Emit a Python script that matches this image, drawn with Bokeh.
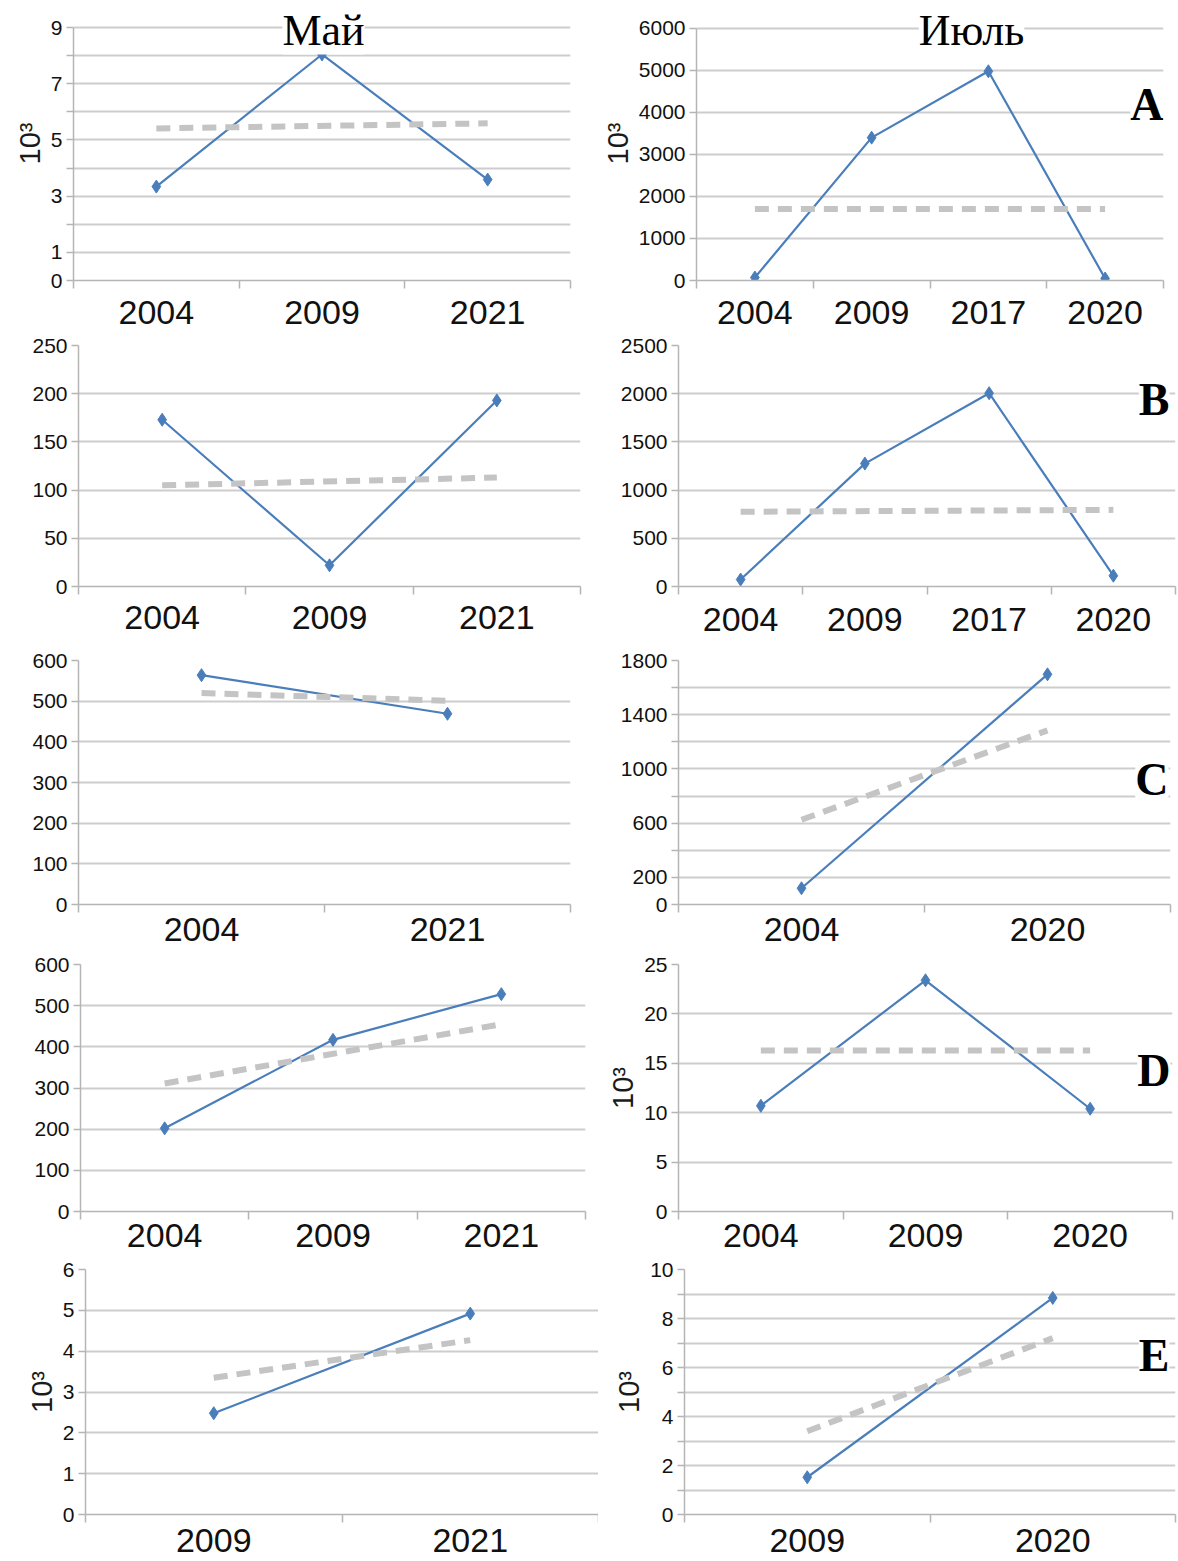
from bokeh.plotting import figure
from bokeh.layouts import column, row
from bokeh.models import Range1d, FixedTicker, Label
from bokeh.embed import file_html
from bokeh.resources import INLINE

# ---------------- data ----------------
may1_years = ["2004", "2009", "2021"]
may1_values = [3.34, 8.04, 3.59]
may1_trend = [5.41, 5.59]
may1_yticks = [0, 1, 2, 3, 4, 5, 6, 7, 8, 9]
may1_ylabels = ["0", "1", "", "3", "", "5", "", "7", "", "9"]

jul1_years = ["2004", "2009", "2017", "2020"]
jul1_values = [70, 3400, 4980, 47]
jul1_trend = [1700, 1700]
jul1_yticks = [0, 1000, 2000, 3000, 4000, 5000, 6000]
jul1_ylabels = ["0", "1000", "2000", "3000", "4000", "5000", "6000"]

may2_years = ["2004", "2009", "2021"]
may2_values = [173, 22, 193]
may2_trend = [105, 113]
may2_yticks = [0, 50, 100, 150, 200, 250]
may2_ylabels = ["0", "50", "100", "150", "200", "250"]

jul2_years = ["2004", "2009", "2017", "2020"]
jul2_values = [72, 1275, 2005, 112]
jul2_trend = [775, 795]
jul2_yticks = [0, 500, 1000, 1500, 2000, 2500]
jul2_ylabels = ["0", "500", "1000", "1500", "2000", "2500"]

may3_years = ["2004", "2021"]
may3_values = [564, 469]
may3_trend = [520, 501]
may3_yticks = [0, 100, 200, 300, 400, 500, 600]
may3_ylabels = ["0", "100", "200", "300", "400", "500", "600"]

jul3_years = ["2004", "2020"]
jul3_values = [120, 1698]
jul3_trend = [625, 1285]
jul3_yticks = [0, 200, 400, 600, 800, 1000, 1200, 1400, 1600, 1800]
jul3_ylabels = ["0", "200", "", "600", "", "1000", "", "1400", "", "1800"]

may4_years = ["2004", "2009", "2021"]
may4_values = [202, 417, 528]
may4_trend = [311, 455]
may4_yticks = [0, 100, 200, 300, 400, 500, 600]
may4_ylabels = ["0", "100", "200", "300", "400", "500", "600"]

jul4_years = ["2004", "2009", "2020"]
jul4_values = [10.7, 23.4, 10.4]
jul4_trend = [16.3, 16.3]
jul4_yticks = [0, 5, 10, 15, 20, 25]
jul4_ylabels = ["0", "5", "10", "15", "20", "25"]

may5_years = ["2009", "2021"]
may5_values = [2.48, 4.92]
may5_trend = [3.35, 4.27]
may5_yticks = [0, 1, 2, 3, 4, 5, 6]
may5_ylabels = ["0", "1", "2", "3", "4", "5", "6"]

jul5_years = ["2009", "2020"]
jul5_values = [1.52, 8.84]
jul5_trend = [3.4, 7.2]
jul5_yticks = [0, 1, 2, 3, 4, 5, 6, 7, 8, 9, 10]
jul5_ylabels = ["0", "", "2", "", "4", "", "6", "", "8", "", "10"]

col_titles = ["Май", "Июль"]
panel_letters = ["A", "B", "C", "D", "E"]
unit_label = "10³"

# ---------------- styles / layout ----------------
AXIS = "#b5b5b5"
GRID = "#cdcdcd"
BLUE = "#4a7ebb"
TREND = "#c4c4c4"
SANS = "Liberation Sans"
SERIF = "Liberation Serif"

LEFT_W = 598
RIGHT_W = 580
ROWS = [(0, 333), (333, 643), (643, 951), (951, 1256), (1256, 1561)]


def make_panel(years, values, trend, yticks, ylabels, col, rowi, frame,
               standoff, unit=None, title=None, title_frac=0.5, title_pad=0,
               letter=None, letter_frac=0.5, letter_dx=0):
    """frame = (left, right, grid_top, bottom) in page pixels."""
    n = len(years)
    fx0 = 0 if col == 0 else LEFT_W
    width = LEFT_W if col == 0 else RIGHT_W
    fy0, fy1 = ROWS[rowi]
    height = fy1 - fy0
    left, right, gtop, bottom = frame
    top = gtop - title_pad
    bl = left - fx0
    br = fx0 + width - right
    bt = top - fy0
    bb = fy1 - bottom

    ymax = yticks[-1]
    grid_h = bottom - gtop
    per_px = (ymax - yticks[0]) / grid_h
    yend = ymax + title_pad * per_px

    p = figure(width=width, height=height,
               x_range=Range1d(0.5, n + 0.5),
               y_range=Range1d(yticks[0], yend),
               output_backend="svg", toolbar_location=None,
               min_border_left=bl, min_border_right=br,
               min_border_top=bt, min_border_bottom=bb)
    p.outline_line_color = None
    p.background_fill_color = "white"
    p.border_fill_color = "white"
    p.xgrid.visible = False
    p.ygrid.grid_line_color = GRID
    p.ygrid.grid_line_width = 2

    xs = list(range(1, n + 1))
    xa = p.xaxis[0]
    xa.ticker = FixedTicker(ticks=xs, minor_ticks=[i + 0.5 for i in range(0, n + 1)])
    xa.major_label_overrides = {x: y for x, y in zip(xs, years)}
    xa.major_tick_line_color = None
    xa.major_tick_out = 0
    xa.major_tick_in = 0
    xa.minor_tick_line_color = AXIS
    xa.minor_tick_line_width = 1.5
    xa.minor_tick_out = 8
    xa.minor_tick_in = 0
    xa.axis_line_color = AXIS
    xa.axis_line_width = 1.5
    xa.major_label_text_font = SANS
    xa.major_label_text_font_size = "34px"
    xa.major_label_text_color = "#111111"
    xa.major_label_standoff = standoff

    ya = p.yaxis[0]
    ya.ticker = FixedTicker(ticks=yticks)
    ya.bounds = (yticks[0], ymax)
    ya.major_label_overrides = {t: l for t, l in zip(yticks, ylabels)}
    ya.major_tick_line_color = AXIS
    ya.major_tick_line_width = 1.5
    ya.major_tick_out = 7
    ya.major_tick_in = 0
    ya.minor_tick_line_color = None
    ya.axis_line_color = AXIS
    ya.axis_line_width = 1.5
    ya.major_label_text_font = SANS
    ya.major_label_text_font_size = "21px"
    ya.major_label_text_color = "#111111"
    ya.major_label_standoff = 4
    if unit:
        ya.axis_label = unit
        ya.axis_label_text_font = SANS
        ya.axis_label_text_font_style = "normal"
        ya.axis_label_text_font_size = "29px"
        ya.axis_label_text_color = "#1a1a1a"
        ya.axis_label_standoff = 2

    p.line(xs, values, line_color=BLUE, line_width=2.2)
    p.scatter(xs, values, marker="diamond", size=13,
              fill_color=BLUE, line_color=BLUE)
    p.line([1, n], trend, line_color=TREND, line_width=6, line_dash="14 9")

    if title:
        p.add_layout(Label(x=0.5 + title_frac * n, y=ymax - 2.5 * per_px,
                           text=title,
                           text_font=SERIF, text_font_size="44px",
                           text_color="#000000", text_align="center",
                           text_baseline="middle",
                           background_fill_color="white"))
    if letter:
        p.add_layout(Label(x=n + 0.5, y=yticks[0] + letter_frac * (ymax - yticks[0]),
                           text=letter, x_offset=letter_dx,
                           text_font=SERIF, text_font_size="46px",
                           text_font_style="bold", text_color="#000000",
                           text_align="right", text_baseline="middle",
                           background_fill_color="white"))
    return p


p1 = make_panel(may1_years, may1_values, may1_trend, may1_yticks, may1_ylabels,
                0, 0, (73, 570, 27, 280), 12, unit=unit_label,
                title=col_titles[0], title_frac=0.503, title_pad=21)
pA = make_panel(jul1_years, jul1_values, jul1_trend, jul1_yticks, jul1_ylabels,
                1, 0, (686, 1163, 28, 281), 12, unit=unit_label,
                title=col_titles[1], title_frac=0.589, title_pad=22,
                letter=panel_letters[0], letter_frac=0.70)

p2 = make_panel(may2_years, may2_values, may2_trend, may2_yticks, may2_ylabels,
                0, 1, (78, 580, 345, 586), 11)
pB = make_panel(jul2_years, jul2_values, jul2_trend, jul2_yticks, jul2_ylabels,
                1, 1, (678, 1175, 345, 586), 13,
                letter=panel_letters[1], letter_frac=0.778, letter_dx=-6)

p3 = make_panel(may3_years, may3_values, may3_trend, may3_yticks, may3_ylabels,
                0, 2, (78, 570, 659, 904), 5)
pC = make_panel(jul3_years, jul3_values, jul3_trend, jul3_yticks, jul3_ylabels,
                1, 2, (678, 1170, 660, 904), 5,
                letter=panel_letters[2], letter_frac=0.514, letter_dx=-2)

p4 = make_panel(may4_years, may4_values, may4_trend, may4_yticks, may4_ylabels,
                0, 3, (80, 585, 964, 1211), 4)
pD = make_panel(jul4_years, jul4_values, jul4_trend, jul4_yticks, jul4_ylabels,
                1, 3, (678, 1172, 964, 1211), 4, unit=unit_label,
                letter=panel_letters[3], letter_frac=0.572, letter_dx=-2)

p5 = make_panel(may5_years, may5_values, may5_trend, may5_yticks, may5_ylabels,
                0, 4, (85, 598, 1269, 1514), 6, unit=unit_label)
pE = make_panel(jul5_years, jul5_values, jul5_trend, jul5_yticks, jul5_ylabels,
                1, 4, (684, 1175, 1269, 1514), 6, unit=unit_label,
                letter=panel_letters[4], letter_frac=0.648, letter_dx=-6)

layout = column(row(p1, pA), row(p2, pB), row(p3, pC), row(p4, pD), row(p5, pE))

open("out.html", "w").write(file_html(layout, INLINE))
